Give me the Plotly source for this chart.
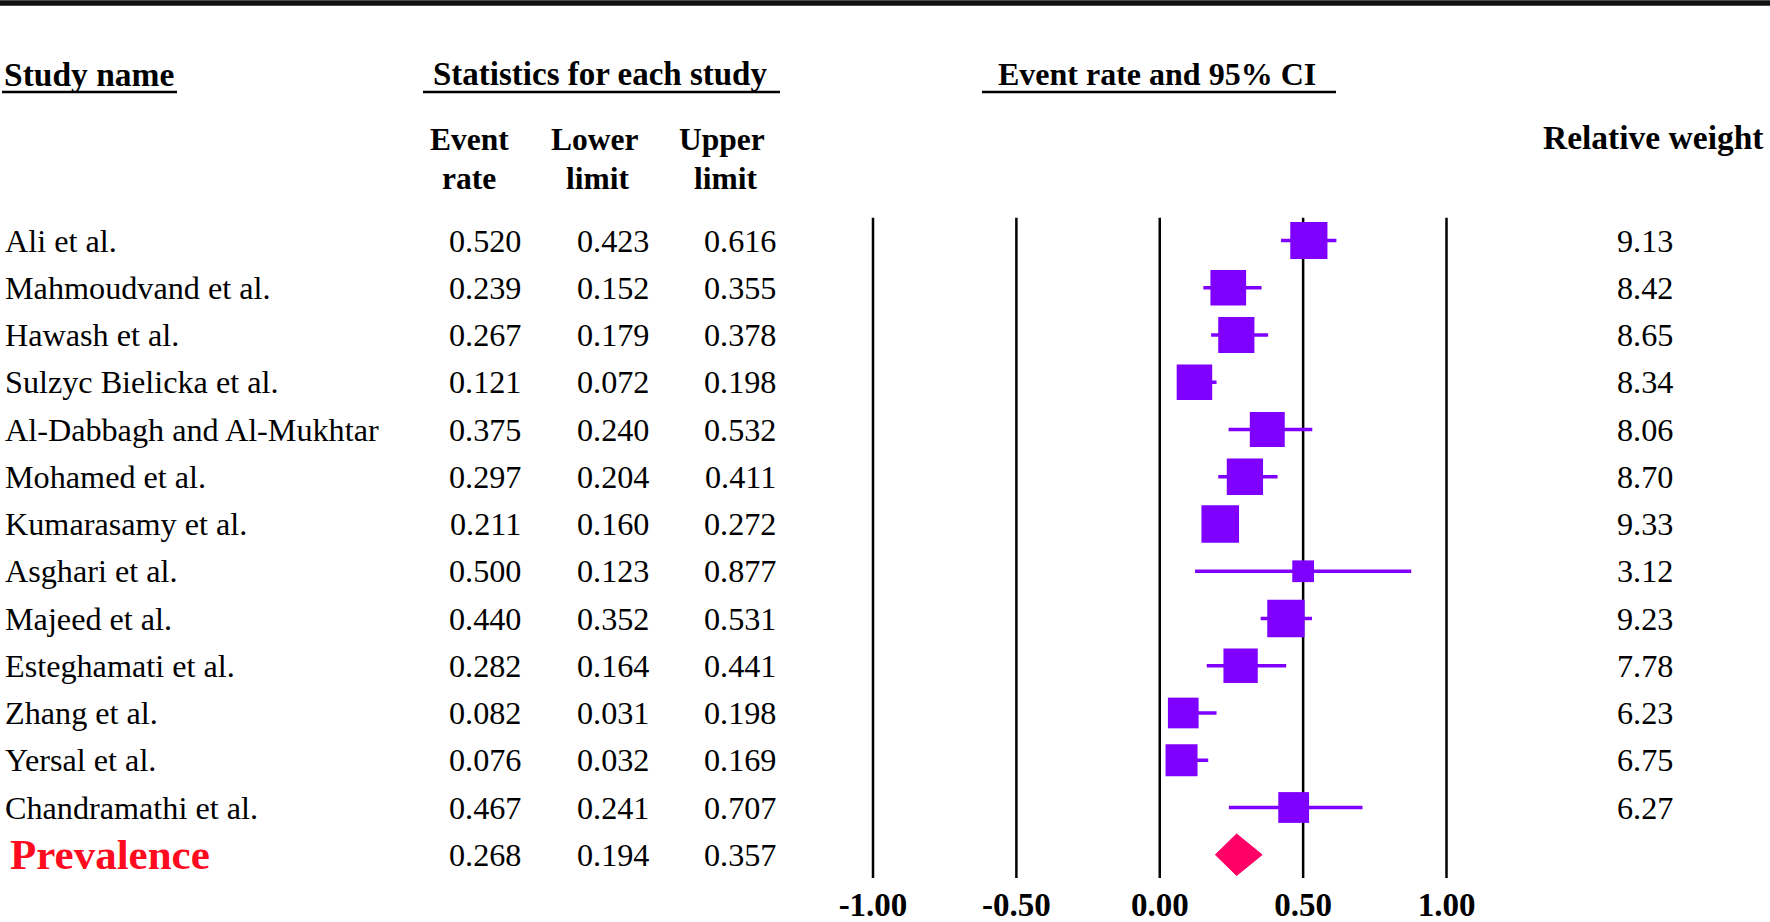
import numpy as np
import plotly.graph_objects as go

# ---------------- data ----------------
studies = ["Ali et al.", "Mahmoudvand et al.", "Hawash et al.", "Sulzyc Bielicka et al.",
           "Al-Dabbagh and Al-Mukhtar", "Mohamed et al.", "Kumarasamy et al.", "Asghari et al.",
           "Majeed et al.", "Esteghamati et al.", "Zhang et al.", "Yersal et al.",
           "Chandramathi et al."]
event_rate = [0.520, 0.239, 0.267, 0.121, 0.375, 0.297, 0.211, 0.500, 0.440, 0.282, 0.082, 0.076, 0.467]
lower_limit = [0.423, 0.152, 0.179, 0.072, 0.240, 0.204, 0.160, 0.123, 0.352, 0.164, 0.031, 0.032, 0.241]
upper_limit = [0.616, 0.355, 0.378, 0.198, 0.532, 0.411, 0.272, 0.877, 0.531, 0.441, 0.198, 0.169, 0.707]
relative_weight = [9.13, 8.42, 8.65, 8.34, 8.06, 8.70, 9.33, 3.12, 9.23, 7.78, 6.23, 6.75, 6.27]

pooled_label = "Prevalence"
pooled_rate = 0.268
pooled_lower = 0.194
pooled_upper = 0.357

axis_ticks = [-1.0, -0.5, 0.0, 0.5, 1.0]
axis_tick_labels = ["-1.00", "-0.50", "0.00", "0.50", "1.00"]

# ---------------- styling ----------------
W, H = 1770, 922
FONT = "Liberation Serif, Times New Roman, serif"
PURPLE = "#7F00FF"
PINK = "#FF0066"
RED = "#FF0A1E"


def px(x):
    return x / W


def py(y):
    return 1 - y / H


n = len(studies)
rows = list(range(n))
pooled_row = n

fig = go.Figure()

# CI whiskers
xs, ys = [], []
for i in rows:
    xs += [lower_limit[i], upper_limit[i], None]
    ys += [i, i, None]
fig.add_trace(go.Scatter(x=xs, y=ys, mode="lines", line=dict(color=PURPLE, width=3.5),
                         hoverinfo="skip", showlegend=False))

# point estimates (square size from relative weight)
sizes = [12.3 * np.sqrt(w) for w in relative_weight]
fig.add_trace(go.Scatter(x=event_rate, y=rows, mode="markers",
                         marker=dict(symbol="square", size=sizes, color=PURPLE, opacity=1,
                                     line=dict(width=0)),
                         showlegend=False))

# pooled diamond
half_h = 0.44
fig.add_trace(go.Scatter(
    x=[pooled_lower, pooled_rate, pooled_upper, pooled_rate, pooled_lower],
    y=[pooled_row, pooled_row - half_h, pooled_row, pooled_row + half_h, pooled_row],
    mode="lines", fill="toself", fillcolor=PINK, line=dict(color=PINK, width=1),
    showlegend=False, hoverinfo="skip"))

shapes = []
# vertical reference lines
for t in axis_ticks:
    shapes.append(dict(type="line", xref="x", yref="y", x0=t, x1=t, y0=-0.48, y1=13.5,
                       line=dict(color="black", width=2.5), layer="below"))
# top rule
shapes.append(dict(type="line", xref="paper", yref="paper", x0=0, x1=1, y0=py(3), y1=py(3),
                   line=dict(color="#111111", width=5.5)))
# header underlines
for x0, x1 in [(2, 177), (423, 780), (982, 1336)]:
    shapes.append(dict(type="line", xref="paper", yref="paper", x0=px(x0), x1=px(x1),
                       y0=py(92), y1=py(92), line=dict(color="black", width=2.5)))

ann = []


def add_text(text, x, y, xanchor="center", size=31, bold=False, color="black", yref="paper"):
    ann.append(dict(text=text, x=x, y=y, xref="paper", yref=yref, xanchor=xanchor,
                    yanchor="middle", showarrow=False,
                    font=dict(family=FONT, size=size, color=color,
                              weight="bold" if bold else "normal")))


# headers
add_text("Study name", px(2), py(74), xanchor="left", size=33.5, bold=True)
add_text("Statistics for each study", px(600), py(74), size=33, bold=True)
add_text("Event rate and 95% CI", px(1157), py(74), size=32, bold=True)
add_text("Event", px(469), py(139), size=31.5, bold=True)
add_text("rate", px(469), py(178), size=31.5, bold=True)
add_text("Lower", px(594), py(139), size=31.5, bold=True)
add_text("limit", px(597), py(178), size=31.5, bold=True)
add_text("Upper", px(722), py(139), size=31.5, bold=True)
add_text("limit", px(725), py(178), size=31.5, bold=True)
add_text("Relative weight", px(1653), py(137), size=33.5, bold=True)

# rows
RS = 32.2
for i in rows:
    add_text(studies[i], px(3), i, xanchor="left", size=RS, yref="y")
    add_text(f"{event_rate[i]:.3f}", px(523), i, xanchor="right", size=RS, yref="y")
    add_text(f"{lower_limit[i]:.3f}", px(651), i, xanchor="right", size=RS, yref="y")
    add_text(f"{upper_limit[i]:.3f}", px(778), i, xanchor="right", size=RS, yref="y")
    add_text(f"{relative_weight[i]:.2f}", px(1675), i, xanchor="right", size=RS, yref="y")

add_text(pooled_label, px(8), pooled_row, xanchor="left", size=43, bold=True, color=RED, yref="y")
add_text(f"{pooled_rate:.3f}", px(523), pooled_row, xanchor="right", size=RS, yref="y")
add_text(f"{pooled_lower:.3f}", px(651), pooled_row, xanchor="right", size=RS, yref="y")
add_text(f"{pooled_upper:.3f}", px(778), pooled_row, xanchor="right", size=RS, yref="y")

# axis mapping: x=-1 at 873px, x=1 at 1446.5px
scale = (1446.5 - 873) / 2.0
zero = 873 + scale
dom = (0.45, 0.9)
xr = [(dom[0] * W - zero) / scale, (dom[1] * W - zero) / scale]

row_h = 47.25
row0 = 240.5
plot_bottom = 878
y_top = (0 - row0) / row_h
y_bot = (plot_bottom - row0) / row_h

fig.update_layout(
    width=W, height=H,
    margin=dict(l=0, r=0, t=0, b=0, autoexpand=False),
    paper_bgcolor="white", plot_bgcolor="white",
    shapes=shapes, annotations=ann,
    xaxis=dict(domain=list(dom), range=xr, tickvals=axis_ticks, ticktext=axis_tick_labels,
               showgrid=False, zeroline=False, showline=False, ticks="", automargin=False,
               tickfont=dict(family=FONT, size=33, color="black", weight="bold"),
               ticklabelstandoff=4),
    yaxis=dict(domain=[1 - plot_bottom / H, 1], range=[y_bot, y_top], visible=False,
               automargin=False),
    showlegend=False,
)

fig.write_html("out.html", config={"displayModeBar": False},
               post_script="document.body.style.margin='0';document.body.style.overflow='hidden';")
